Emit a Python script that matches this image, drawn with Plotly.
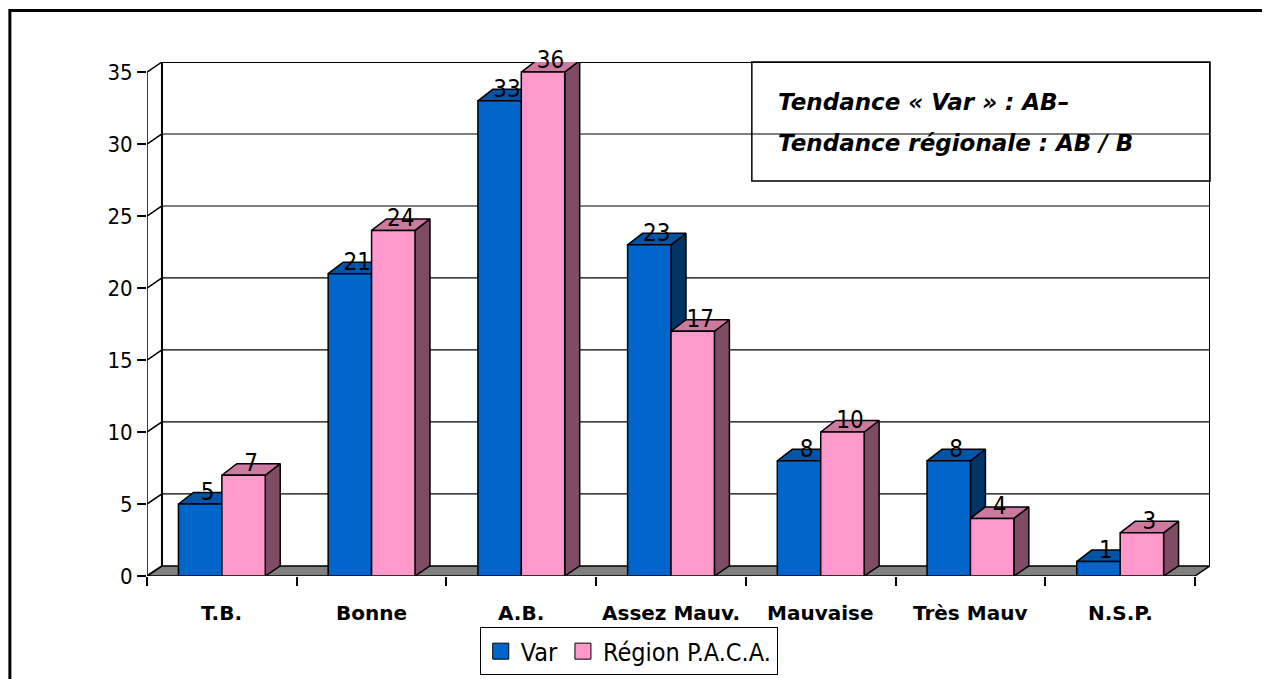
import plotly.graph_objects as go

# ---------------- data ----------------
categories = ["T.B.", "Bonne", "A.B.", "Assez Mauv.", "Mauvaise", "Très Mauv", "N.S.P."]
var_values = [5, 21, 33, 23, 8, 8, 1]
paca_values = [7, 24, 36, 17, 10, 4, 3]
series_names = ["Var", "Région P.A.C.A."]
y_ticks = [0, 5, 10, 15, 20, 25, 30, 35]
note_lines = ["Tendance « Var » : AB–", "Tendance régionale : AB / B"]

# ---------------- style ----------------
Y_MAX = 35
N = len(categories)
DX = 0.1        # depth offset (category units)
DY_WALL = 0.7   # depth offset of floor / walls (value units)
DY_BAR = 0.8    # depth offset of bar tops (value units)
BAR_W = 0.29
FONT = "DejaVu Sans Condensed, Liberation Sans Narrow, DejaVu Sans, sans-serif"
palette = [
    dict(front="#0066CC", top="#0055A8", side="#003366"),
    dict(front="#FF99CC", top="#CC7A9F", side="#7F4C66"),
]
EDGE = dict(color="black", width=1.5)

fig = go.Figure()


def poly(xs, ys, color):
    fig.add_trace(go.Scatter(
        x=xs + [xs[0]], y=ys + [ys[0]], mode="lines", fill="toself",
        fillcolor=color, line=EDGE, hoverinfo="skip", showlegend=False,
        cliponaxis=False))


series = [var_values, paca_values]
for i in range(N):
    c = i + 0.5
    for s, vals in enumerate(series):
        h = min(vals[i], Y_MAX)
        x0 = c - BAR_W + s * BAR_W
        x1 = x0 + BAR_W
        col = palette[s]
        # side face
        poly([x1, x1 + DX, x1 + DX, x1], [0, DY_WALL, h + DY_BAR, h], col["side"])
        # top face
        poly([x0, x1, x1 + DX, x0 + DX], [h, h, h + DY_BAR, h + DY_BAR], col["top"])
        # front face
        poly([x0, x1, x1, x0], [0, 0, h, h], col["front"])

# data labels
for s, vals in enumerate(series):
    xs = [i + 0.5 - BAR_W / 2 + s * BAR_W + DX / 2 for i in range(N)]
    ys = [min(v, Y_MAX) + 0.7 for v in vals]
    fig.add_trace(go.Scatter(
        x=xs, y=ys, mode="text", text=[str(v) for v in vals],
        textposition="middle center",
        textfont=dict(family=FONT, size=24, color="black"),
        hoverinfo="skip", showlegend=False, cliponaxis=False))

# legend entries
for s, name in enumerate(series_names):
    fig.add_trace(go.Scatter(
        x=[None], y=[None], mode="markers", name=name,
        marker=dict(symbol="square", size=16, color=palette[s]["front"],
                    line=dict(color="black", width=1))))

# ---------------- 3D frame (floor / walls) ----------------
shapes = []
# floor
shapes.append(dict(
    type="path", xref="x", yref="y", layer="below",
    path=f"M 0 0 L {N} 0 L {N + DX} {DY_WALL} L {DX} {DY_WALL} Z",
    fillcolor="#808080", line=dict(color="black", width=1.5)))
# gridlines on back wall + diagonal connectors
for t in y_ticks[1:]:
    shapes.append(dict(type="line", xref="x", yref="y", layer="below",
                       x0=DX, x1=N + DX, y0=t + DY_WALL, y1=t + DY_WALL,
                       line=dict(color="black", width=2 if t == Y_MAX else 1.2)))
for t in y_ticks:
    shapes.append(dict(type="line", xref="x", yref="y", layer="below",
                       x0=0, x1=DX, y0=t, y1=t + DY_WALL,
                       line=dict(color="black", width=1.5)))
# wall edges
shapes.append(dict(type="line", xref="x", yref="y", layer="below",
                   x0=DX, x1=DX, y0=DY_WALL, y1=Y_MAX + DY_WALL,
                   line=dict(color="black", width=2)))
shapes.append(dict(type="line", xref="x", yref="y", layer="below",
                   x0=N + DX, x1=N + DX, y0=DY_WALL, y1=Y_MAX + DY_WALL,
                   line=dict(color="black", width=2)))
shapes.append(dict(type="line", xref="x", yref="y", layer="below",
                   x0=0, x1=0, y0=0, y1=Y_MAX,
                   line=dict(color="black", width=1.5)))
# note box
shapes.append(dict(type="rect", xref="paper", yref="paper", layer="below",
                   x0=0.569, x1=1.0, y0=0.7685, y1=1.0,
                   fillcolor="white", line=dict(color="black", width=1.5)))
# outer frame
shapes.append(dict(type="rect", xref="paper", yref="paper", layer="above",
                   x0=-0.129, x1=1.08, y0=-0.25, y1=1.1,
                   line=dict(color="black", width=3)))

annotations = []
for i, cat in enumerate(categories):
    annotations.append(dict(x=i + 0.5, y=-0.072, xref="x", yref="paper",
                            text=f"<b>{cat}</b>", showarrow=False,
                            xanchor="center", yanchor="middle",
                            font=dict(family="DejaVu Sans, sans-serif", size=20,
                                      color="black")))
for k, line in enumerate(note_lines):
    annotations.append(dict(x=0.592, y=[0.922, 0.842][k], xref="paper", yref="paper",
                            text=f"<b><i>{line}</i></b>", showarrow=False,
                            xanchor="left", yanchor="middle",
                            font=dict(family="DejaVu Sans, sans-serif", size=23,
                                      color="black")))

fig.update_layout(
    width=1254, height=671,
    margin=dict(l=139, r=52, t=54, b=103, autoexpand=False),
    paper_bgcolor="white", plot_bgcolor="white",
    shapes=shapes, annotations=annotations,
    showlegend=True,
    legend=dict(orientation="h", x=0.313, y=-0.1, xanchor="left", yanchor="top",
                bordercolor="black", borderwidth=1, bgcolor="white",
                font=dict(family=FONT, size=25, color="black"),
                itemsizing="trace"),
    xaxis=dict(range=[0, N + DX], tickvals=list(range(N + 1)), ticktext=[""] * (N + 1),
               ticks="outside", ticklen=9, tickwidth=1.5, tickcolor="black",
               showgrid=False, zeroline=False, showline=False, fixedrange=True,
               automargin=False),
    yaxis=dict(range=[0, Y_MAX + DY_WALL], tickvals=y_ticks,
               ticks="outside", ticklen=9, tickwidth=1.5, tickcolor="black",
               tickfont=dict(family=FONT, size=22, color="black"),
               showgrid=False, zeroline=False, showline=False, fixedrange=True,
               automargin=False),
)

fig.write_html("out.html")
